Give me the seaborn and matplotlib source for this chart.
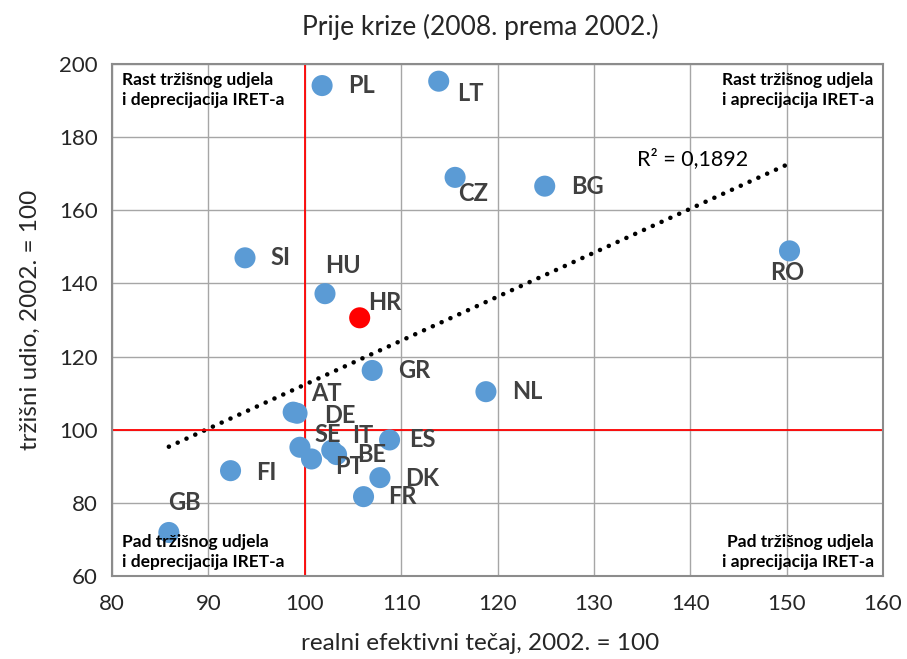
import pandas as pd
import seaborn as sns
import matplotlib.pyplot as plt

# data (REER 2002=100 vs market share 2002=100)
countries = ['PL', 'LT', 'CZ', 'BG', 'RO', 'SI', 'HU', 'HR', 'GR', 'NL', 'AT', 'DE',
             'SE', 'IT', 'BE', 'PT', 'ES', 'DK', 'FR', 'FI', 'GB']
reer = [101.8, 113.9, 115.6, 124.9, 150.3, 93.8, 102.1, 105.7, 107.0, 118.8, 98.8, 99.2,
        99.5, 102.8, 103.3, 100.7, 108.8, 107.8, 106.1, 92.3, 85.9]
market_share = [194.1, 195.3, 169.0, 166.6, 148.9, 147.0, 137.2, 130.6, 116.2, 110.4, 104.8, 104.5,
                95.2, 94.4, 93.2, 92.0, 97.2, 86.9, 81.7, 88.8, 71.9]
highlight = 'HR'

x_ticks = [80, 90, 100, 110, 120, 130, 140, 150, 160]
y_ticks = [60, 80, 100, 120, 140, 160, 180, 200]

# label offsets in pixels (dx, dy), text anchored left/centre
label_offsets = {
    'PL': (26, 0), 'LT': (18, -12), 'CZ': (3, -16), 'BG': (26, 0), 'RO': (-19, -22),
    'SI': (25, 0), 'HU': (0, 28), 'HR': (8, 15), 'GR': (26, 0), 'NL': (26, 0),
    'AT': (18, 19), 'DE': (27, -2), 'SE': (15, 13), 'IT': (20, 15), 'BE': (21, 0),
    'PT': (24, -8), 'ES': (20, 0), 'DK': (25, -1), 'FR': (25, 0), 'FI': (26, -2),
    'GB': (-1, 30),
}

df = pd.DataFrame({'zemlja': countries, 'reer': reer, 'udio': market_share})
df['grupa'] = ['HR' if c == highlight else 'ostali' for c in countries]

sns.set_style('white')
plt.rcParams['font.family'] = ['Lato', 'DejaVu Sans']

fig = plt.figure(figsize=(9.07, 6.59), dpi=100)
ax = fig.add_axes([112 / 907, 1 - 576 / 659, 771 / 907, 512 / 659])

# trend line over all points (dotted, round dots)
sns.regplot(data=df, x='reer', y='udio', ax=ax, scatter=False, ci=None, truncate=True,
            line_kws={'color': 'black', 'linestyle': (0, (0.01, 2.1)), 'linewidth': 3.3,
                      'dash_capstyle': 'round'})

sns.scatterplot(data=df, x='reer', y='udio', hue='grupa', ax=ax, s=230, edgecolor='none',
                palette={'ostali': '#5B9BD5', 'HR': '#FF0000'}, legend=False, zorder=3)

ax.axvline(100, color='#FF0000', linewidth=1.3, zorder=2)
ax.axhline(100, color='#FF0000', linewidth=1.3, zorder=2)

for _, row in df.iterrows():
    dx, dy = label_offsets[row['zemlja']]
    ax.annotate(row['zemlja'], (row['reer'], row['udio']), xytext=(dx, dy),
                textcoords='offset pixels', ha='left', va='center',
                fontsize=17, fontweight='bold', color='#404040', zorder=4)

ax.set_xlim(80, 160)
ax.set_ylim(60, 200)
ax.set_xticks(x_ticks)
ax.set_yticks(y_ticks)
ax.grid(True, color='#A6A6A6', linewidth=1)
ax.set_axisbelow(True)
for sp in ax.spines.values():
    sp.set_color('#8C8C8C')
    sp.set_linewidth(1.5)
ax.tick_params(axis='both', labelsize=16, length=0)
ax.tick_params(axis='x', pad=13)
ax.tick_params(axis='y', pad=10)
ax.set_xlabel('')
ax.set_ylabel('')

q_kw = dict(transform=ax.transAxes, fontsize=12.5, fontweight='bold', color='black',
            linespacing=1.3, zorder=5)
ax.text(0.013, 0.985, 'Rast tržišnog udjela\ni deprecijacija IRET-a', ha='left', va='top', **q_kw)
ax.text(0.988, 0.985, 'Rast tržišnog udjela\ni aprecijacija IRET-a', ha='right', va='top', **q_kw)
ax.text(0.013, 0.012, 'Pad tržišnog udjela\ni deprecijacija IRET-a', ha='left', va='bottom', **q_kw)
ax.text(0.988, 0.012, 'Pad tržišnog udjela\ni aprecijacija IRET-a', ha='right', va='bottom', **q_kw)

ax.text(134.5, 174.0, 'R² = 0,1892', fontsize=15.5, color='black', ha='left', va='center')

fig.text(480 / 907, 1 - 27 / 659, 'Prije krize (2008. prema 2002.)', ha='center', va='center',
         fontsize=19)
fig.text(480 / 907, 1 - 643 / 659, 'realni efektivni tečaj, 2002. = 100', ha='center',
         va='center', fontsize=17.5)
fig.text(30 / 907, 1 - 320 / 659, 'tržišni udio, 2002. = 100', ha='center', va='center',
         rotation=90, fontsize=17.5)

fig.savefig('out.png', dpi=100)
